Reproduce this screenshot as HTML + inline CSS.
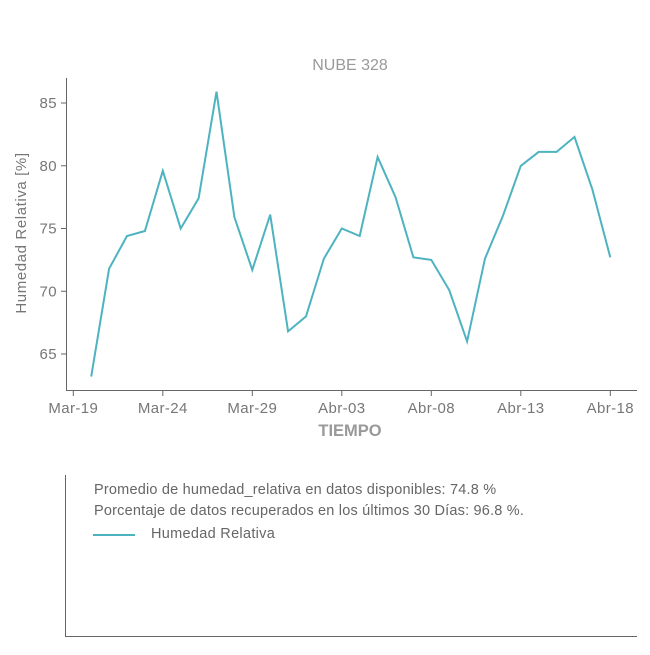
<!DOCTYPE html>
<html><head><meta charset="utf-8"><style>
body{margin:0;background:#fff;font-family:"Liberation Sans",sans-serif;}
svg text{font-family:"Liberation Sans",sans-serif;}
</style></head><body>
<svg width="650" height="650">
<text x="350" y="70" text-anchor="middle" font-size="16" fill="#999">NUBE 328</text>
<g id="plot"></g>
<text x="350" y="436" text-anchor="middle" font-size="16.5" font-weight="bold" fill="#999">TIEMPO</text>
<text transform="translate(26,233) rotate(-90)" text-anchor="middle" font-size="15" letter-spacing="0.6" fill="#777">Humedad Relativa [%]</text>
<g>
<line x1="65.5" y1="475" x2="65.5" y2="637" stroke="#666"/>
<line x1="65" y1="636.5" x2="637" y2="636.5" stroke="#666"/>
<text x="94" y="494" font-size="14.5" letter-spacing="0.2" fill="#666">Promedio de humedad_relativa en datos disponibles: 74.8 %</text>
<text x="94" y="515" font-size="14.5" letter-spacing="0.2" fill="#666">Porcentaje de datos recuperados en los últimos 30 Días: 96.8 %.</text>
<line x1="93" y1="535" x2="135" y2="535" stroke="#4db3c0" stroke-width="2"/>
<text x="151" y="538" font-size="14.5" letter-spacing="0.3" fill="#666">Humedad Relativa</text>
</g>
</svg>
<script>
const values=[63.2,71.8,74.4,74.8,79.6,75.0,77.4,85.9,75.9,71.7,76.1,66.8,68.0,72.6,75.0,74.4,80.7,77.5,72.7,72.5,70.1,66.0,72.6,76.0,80.0,81.1,81.1,82.3,78.1,72.7];
const startDay=1;
const xTickLabels=["Mar-19","Mar-24","Mar-29","Abr-03","Abr-08","Abr-13","Abr-18"];
const xTickDays=[0,5,10,15,20,25,30];
const yTicks=[65,70,75,80,85];
const NS="http://www.w3.org/2000/svg";
const g=document.getElementById('plot');
const x=d=>73.3+d*17.9;
const y=v=>354-(v-65)*12.55;
function el(t,a){const e=document.createElementNS(NS,t);for(const k in a)e.setAttribute(k,a[k]);g.appendChild(e);return e;}
const ly=el('line',{x1:66.5,y1:78,x2:66.5,y2:390,stroke:'#666'});


const lx=el('line',{x1:66,y1:390.5,x2:637,y2:390.5,stroke:'#666'});


yTicks.forEach(v=>{
 const t=el('line',{x1:61,y1:y(v),x2:66,y2:y(v),stroke:'#666'});
 
 
 const l=el('text',{x:57,y:y(v)+5,'text-anchor':'end','font-size':15,'letter-spacing':0.4,fill:'#777'});
 l.textContent=v;
 
 
});
xTickDays.forEach((d,i)=>{
 const t=el('line',{x1:x(d),y1:391,x2:x(d),y2:396,stroke:'#666'});
 
 
 const l=el('text',{x:x(d),y:413,'text-anchor':'middle','font-size':15,'letter-spacing':0.4,fill:'#777'});
 l.textContent=xTickLabels[i];
 
 
});
const pts=values.map((v,i)=>x(startDay+i).toFixed(1)+','+y(v).toFixed(1)).join(' ');
const line=el('polyline',{points:pts,fill:'none',stroke:'#4db3c0','stroke-width':2});


</script>
</body></html>
